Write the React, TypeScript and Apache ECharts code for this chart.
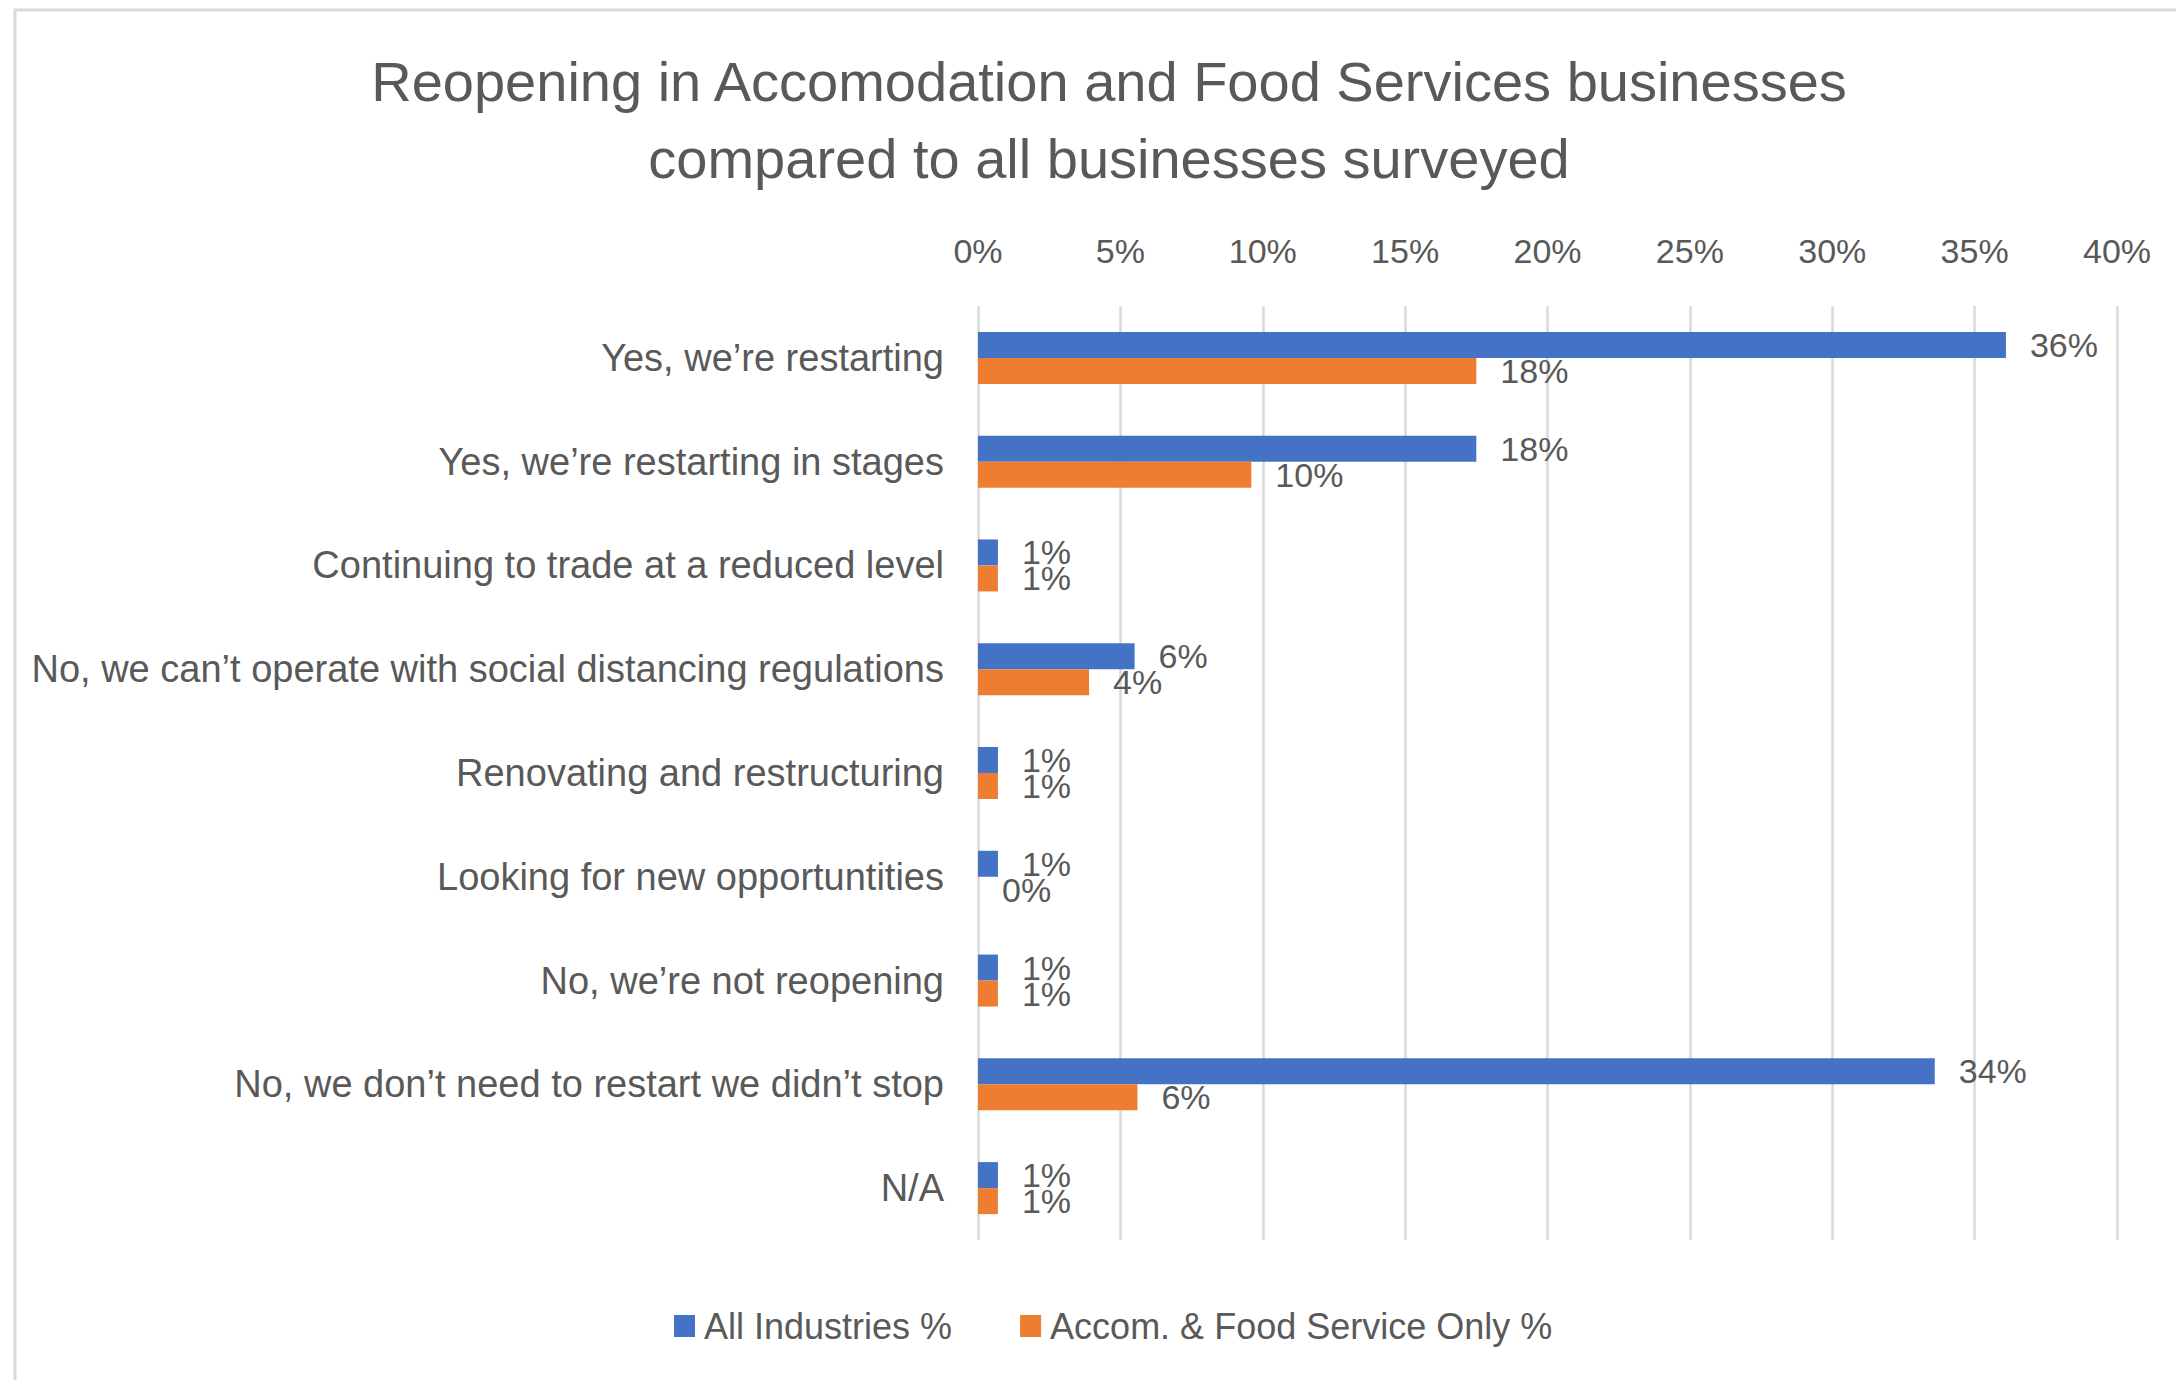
import React, { useEffect, useRef } from "react";
import * as echarts from "echarts";

const categories = [
  "Yes, we’re restarting",
  "Yes, we’re restarting in stages",
  "Continuing to trade at a reduced level",
  "No, we can’t operate with social distancing regulations",
  "Renovating and restructuring",
  "Looking for new opportuntities",
  "No, we’re not reopening",
  "No, we don’t need to restart we didn’t stop",
  "N/A",
];
const allIndustries = [36.1, 17.5, 0.7, 5.5, 0.7, 0.7, 0.7, 33.6, 0.7];
const accomFood = [17.5, 9.6, 0.7, 3.9, 0.7, 0, 0.7, 5.6, 0.7];
const seriesNames = ["All Industries %", "Accom. & Food Service Only %"];
const titleText = "Reopening in Accomodation and Food Services businesses\ncompared to all businesses surveyed";

const FONT = "'Liberation Sans', Arial, sans-serif";
const TEXT = "#595959";

export default function App() {
  const ref = useRef<HTMLDivElement>(null);
  useEffect(() => {
    if (!ref.current) return;
    const chart = echarts.init(ref.current, undefined, { renderer: "svg" });
    const label = {
      show: true,
      position: "right",
      distance: 24,
      fontSize: 34,
      color: TEXT,
      fontFamily: FONT,
      formatter: (p: any) => `${Math.round(p.value)}%`,
    };
    chart.setOption({
      animation: false,
      backgroundColor: "#ffffff",
      textStyle: { fontFamily: FONT, color: TEXT },
      title: {
        text: titleText,
        left: 1104,
        top: 38,
        textAlign: "center",
        textStyle: { fontSize: 56, fontWeight: "normal", color: TEXT, lineHeight: 77, fontFamily: FONT },
      },
      graphic: [
        {
          type: "rect",
          shape: { x: 15, y: 10, width: 2400, height: 1600 },
          style: { fill: "none", stroke: "#d9d9d9", lineWidth: 3 },
          silent: true,
        },
      ],
      legend: {
        data: seriesNames,
        left: 669,
        top: 1303,
        itemWidth: 21,
        itemHeight: 22,
        itemGap: 68,
        icon: "rect",
        textStyle: { fontSize: 36, color: TEXT, fontFamily: FONT, padding: [0, 0, 0, 4] },
      },
      grid: { left: 978, right: 59, top: 306, height: 934, containLabel: false },
      xAxis: {
        type: "value",
        position: "top",
        min: 0,
        max: 40,
        interval: 5,
        axisLine: { show: false },
        axisTick: { show: false },
        axisLabel: { formatter: "{value}%", fontSize: 34, color: TEXT, fontFamily: FONT, margin: 38 },
        splitLine: { show: true, lineStyle: { color: "#d9d9d9", width: 2.5 } },
      },
      yAxis: {
        type: "category",
        inverse: true,
        data: categories,
        axisLine: { show: false },
        axisTick: { show: false },
        axisLabel: { fontSize: 38, color: TEXT, fontFamily: FONT, margin: 34 },
      },
      series: [
        {
          name: seriesNames[0],
          type: "bar",
          data: allIndustries,
          barWidth: 26,
          barGap: "0%",
          itemStyle: { color: "#4472c4" },
          label,
        },
        {
          name: seriesNames[1],
          type: "bar",
          data: accomFood,
          barWidth: 26,
          barGap: "0%",
          itemStyle: { color: "#ed7d31" },
          label,
        },
      ],
    });
    return () => chart.dispose();
  }, []);
  return (
    <div
      ref={ref}
      style={{ position: "fixed", left: 0, top: 0, width: 2176, height: 1380, background: "#fff" }}
    />
  );
}
